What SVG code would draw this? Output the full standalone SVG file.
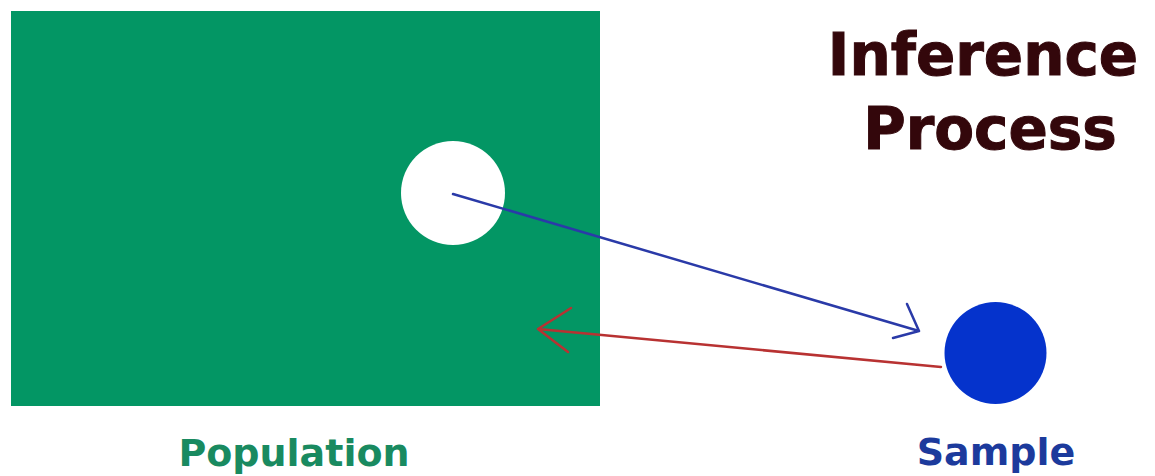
<svg xmlns="http://www.w3.org/2000/svg" width="1155" height="476" viewBox="0 0 1155 476">
<style>
.lbl{font-family:"DejaVu Sans","Verdana",sans-serif;font-weight:bold;text-anchor:middle}
.ttl{fill:#33070b;stroke:#33070b;stroke-width:1}
.ln{fill:none;stroke-width:2.5;stroke-linecap:round;stroke-linejoin:round}
</style>
<rect width="1155" height="476" fill="#ffffff"/>
<g id="population">
<rect x="11" y="11" width="589" height="395" fill="#039664"/>
<circle cx="453" cy="193" r="52" fill="#ffffff"/>
<text class="lbl" x="294" y="466" font-size="38" fill="#198a60">Population</text>
</g>
<g id="sample">
<circle cx="995.5" cy="353" r="51" fill="#0533cc"/>
<text class="lbl" x="996" y="465" font-size="38" fill="#1c3a9c">Sample</text>
</g>
<g id="title">
<text class="lbl ttl" x="983" y="75" font-size="58">Inference</text>
<text class="lbl ttl" x="990" y="149" font-size="58">Process</text>
</g>
<g id="connectors">
<path class="ln" stroke="#2a3aa8" d="M453 194 L919 331 M907 304 L919 331 L893 338"/>
<path class="ln" stroke="#b83232" d="M941 367 L538 329 M571 308 L538 329 L568 352"/>
</g>
</svg>
